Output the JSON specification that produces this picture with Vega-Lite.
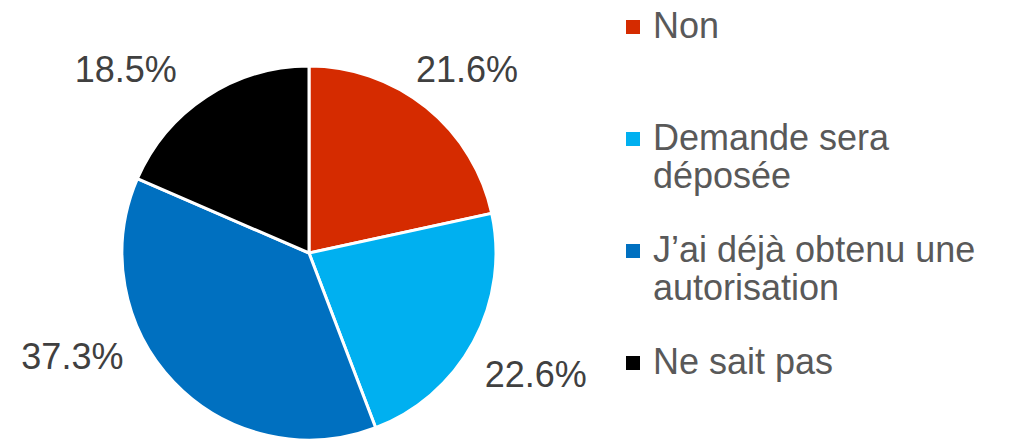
{
  "$schema": "https://vega.github.io/schema/vega-lite/v6.json",
  "width": 374,
  "height": 374,
  "autosize": {"type": "none"},
  "padding": {"left": 122, "top": 66, "right": 519, "bottom": 0},
  "background": "white",
  "config": {"view": {"stroke": null}, "font": "Liberation Sans"},
  "data": {"values": [
    {"cat": "Non", "share": 0.216, "order": 1},
    {"cat": "Demande sera déposée", "share": 0.226, "order": 2},
    {"cat": "J’ai déjà obtenu une autorisation", "share": 0.373, "order": 3},
    {"cat": "Ne sait pas", "share": 0.185, "order": 4}
  ]},
  "transform": [
    {"stack": "share", "groupby": [], "sort": [{"field": "order"}], "as": ["s0", "s1"]},
    {"calculate": "(datum.s0 + datum.s1) / 2", "as": "mid"}
  ],
  "encoding": {
    "color": {
      "field": "cat", "type": "nominal",
      "scale": {
        "domain": ["Non", "Demande sera déposée", "J’ai déjà obtenu une autorisation", "Ne sait pas"],
        "range": ["#d52b00", "#00b0f0", "#0070c0", "#000000"]
      },
      "legend": {
        "title": null,
        "orient": "none",
        "legendX": 493,
        "legendY": -57,
        "symbolType": "square",
        "symbolSize": 196,
        "symbolStrokeWidth": 0,
        "labelFont": "Liberation Sans",
        "labelFontSize": 36,
        "labelColor": "#595959",
        "labelOffset": 2,
        "labelLimit": 400,
        "rowPadding": 38,
        "labelExpr": "datum.label == 'Demande sera déposée' ? ['Demande sera', 'déposée'] : datum.label == 'J’ai déjà obtenu une autorisation' ? ['J’ai déjà obtenu une', 'autorisation'] : [datum.label, ' ']"
      }
    }
  },
  "layer": [
    {
      "mark": {"type": "arc", "stroke": "white", "strokeWidth": 3},
      "encoding": {
        "theta": {"field": "s0", "type": "quantitative", "scale": {"domain": [0, 1]}},
        "theta2": {"field": "s1"}
      }
    },
    {
      "transform": [{"filter": "datum.cat == 'Non'"}],
      "mark": {"type": "text", "radius": 250, "dx": 1, "dy": 13, "font": "Liberation Sans", "fontSize": 36},
      "encoding": {"theta": {"field": "mid", "type": "quantitative", "scale": {"domain": [0, 1]}}, "text": {"field": "share", "type": "quantitative", "format": ".1%"}, "color": {"value": "#404040"}}
    },
    {
      "transform": [{"filter": "datum.cat == 'Demande sera déposée'"}],
      "mark": {"type": "text", "radius": 250, "dx": 7, "dy": 4, "font": "Liberation Sans", "fontSize": 36},
      "encoding": {"theta": {"field": "mid", "type": "quantitative", "scale": {"domain": [0, 1]}}, "text": {"field": "share", "type": "quantitative", "format": ".1%"}, "color": {"value": "#404040"}}
    },
    {
      "transform": [{"filter": "datum.cat == 'J’ai déjà obtenu une autorisation'"}],
      "mark": {"type": "text", "radius": 250, "dx": -56, "dy": -68, "font": "Liberation Sans", "fontSize": 36},
      "encoding": {"theta": {"field": "mid", "type": "quantitative", "scale": {"domain": [0, 1]}}, "text": {"field": "share", "type": "quantitative", "format": ".1%"}, "color": {"value": "#404040"}}
    },
    {
      "transform": [{"filter": "datum.cat == 'Ne sait pas'"}],
      "mark": {"type": "text", "radius": 250, "dx": -46, "dy": 27, "font": "Liberation Sans", "fontSize": 36},
      "encoding": {"theta": {"field": "mid", "type": "quantitative", "scale": {"domain": [0, 1]}}, "text": {"field": "share", "type": "quantitative", "format": ".1%"}, "color": {"value": "#404040"}}
    }
  ]
}
